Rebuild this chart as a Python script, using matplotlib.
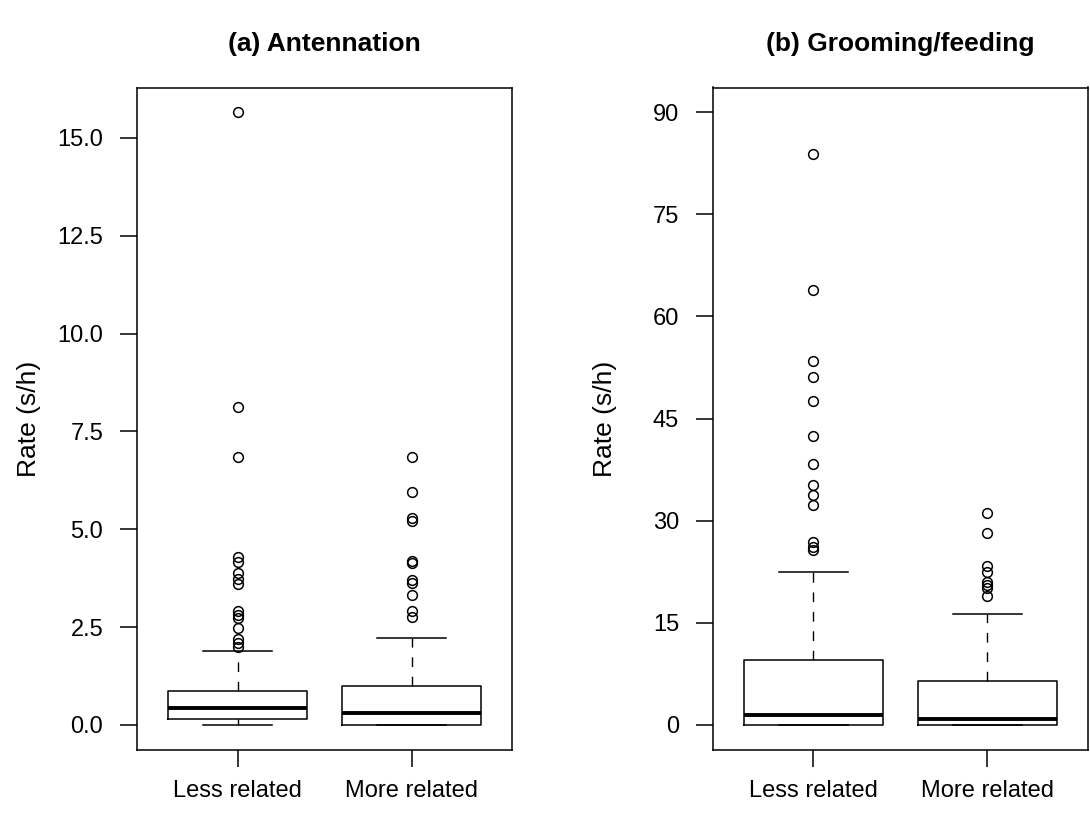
import matplotlib
matplotlib.use("Agg")
import matplotlib.pyplot as plt

plt.rcParams["font.family"] = ["Liberation Sans", "DejaVu Sans"]

groups = ["Less related", "More related"]

# (a) Antennation, rate in s/h
ant_whislo = [0.0, 0.0]
ant_q1 = [0.16, 0.0]
ant_med = [0.44, 0.30]
ant_q3 = [0.86, 0.99]
ant_whishi = [1.89, 2.23]
ant_fliers = [
    [15.66, 8.12, 6.85, 4.30, 4.17, 3.89, 3.72, 3.59, 2.90, 2.80, 2.74,
     2.47, 2.19, 2.09, 2.00],
    [6.85, 5.94, 5.30, 5.20, 4.20, 4.13, 3.71, 3.62, 3.31, 2.91, 2.77],
]
ant_ticks = [0, 2.5, 5, 7.5, 10, 12.5, 15]

# (b) Grooming/feeding, rate in s/h
groom_whislo = [0.0, 0.0]
groom_q1 = [0.0, 0.0]
groom_med = [1.42, 0.83]
groom_q3 = [9.5, 6.5]
groom_whishi = [22.4, 16.3]
groom_fliers = [
    [83.8, 63.8, 53.4, 51.1, 47.6, 42.5, 38.3, 35.2, 33.8, 32.3, 26.8,
     26.2, 25.7],
    [31.1, 28.2, 23.4, 22.4, 21.0, 20.5, 20.1, 18.9],
]
groom_ticks = [0, 15, 30, 45, 60, 75, 90]

panels = [
    ("(a) Antennation", ant_whislo, ant_q1, ant_med, ant_q3, ant_whishi,
     ant_fliers, ant_ticks, (0, 15.66), "{:.1f}"),
    ("(b) Grooming/feeding", groom_whislo, groom_q1, groom_med, groom_q3,
     groom_whishi, groom_fliers, groom_ticks, (0, 90), "{:.0f}"),
]

fig = plt.figure(figsize=(10.9, 8.16), dpi=100)
lefts = [0.1254, 0.6537]
W, H = 1090, 816

for (title, wlo, q1, med, q3, whi, fl, ticks, yr, fmt), left in zip(panels, lefts):
    ax = fig.add_axes((left, (H - 749.5) / H, 375.8 / W, 662 / H))
    stats = []
    for i in range(len(groups)):
        stats.append(dict(whislo=wlo[i], q1=q1[i], med=med[i], q3=q3[i],
                          whishi=whi[i], fliers=fl[i]))
    ax.bxp(stats, positions=[1, 2], widths=0.8, capwidths=0.4,
           showfliers=True, patch_artist=False,
           boxprops=dict(color="black", linewidth=1.1),
           medianprops=dict(color="black", linewidth=2.8, solid_capstyle="butt"),
           whiskerprops=dict(color="black", linewidth=1.0, linestyle=(0, (7, 7))),
           capprops=dict(color="black", linewidth=1.1),
           flierprops=dict(marker="o", markerfacecolor="none",
                           markeredgecolor="black", markersize=7,
                           markeredgewidth=1.1, linestyle="none"))
    ax.set_xlim(0.42, 2.58)
    pad = 0.04 * (yr[1] - yr[0])
    ax.set_ylim(yr[0] - pad, yr[1] + pad)
    ax.set_yticks(ticks)
    ax.set_yticklabels([fmt.format(t) for t in ticks])
    ax.set_xticks([1, 2])
    ax.set_xticklabels(groups)
    ax.tick_params(axis="both", direction="out", length=12, width=1.1,
                   labelsize=17, color="black")
    ax.tick_params(axis="y", pad=12)
    ax.tick_params(axis="x", pad=10)
    for s in ax.spines.values():
        s.set_linewidth(1.1)
    ax.set_ylabel("Rate (s/h)", fontsize=19)
    ax.yaxis.set_label_coords(-0.255, 0.5)
    ax.set_title(title, fontsize=19, fontweight="bold", pad=26)

fig.savefig("out.png", dpi=100)
